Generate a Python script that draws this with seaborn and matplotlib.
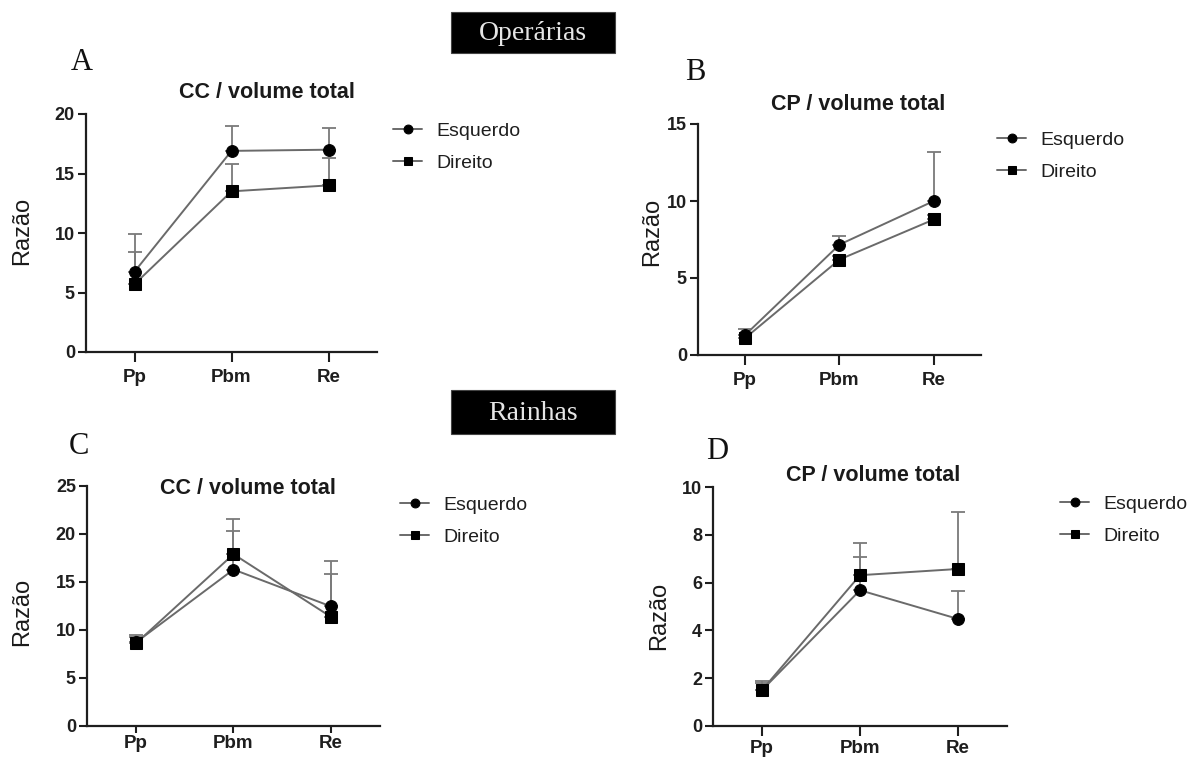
import pandas as pd
import seaborn as sns
import matplotlib.pyplot as plt
from matplotlib.patches import Rectangle

# categories on the x axis
categorias = ['Pp', 'Pbm', 'Re']
lados = ['Esquerdo', 'Direito']

# A - Operárias, CC / volume total
a_esq_media = [6.75, 16.9, 17.0]
a_esq_dp = [3.15, 2.1, 1.8]
a_dir_media = [5.7, 13.5, 14.0]
a_dir_dp = [2.7, 2.3, 2.3]

# B - Operárias, CP / volume total
b_esq_media = [1.3, 7.17, 10.0]
b_esq_dp = [0.4, 0.55, 3.2]
b_dir_media = [1.1, 6.2, 8.8]
b_dir_dp = [0.2, 0.25, 0.3]

# C - Rainhas, CC / volume total
c_esq_media = [8.7, 16.3, 12.45]
c_esq_dp = [0.8, 4.0, 4.75]
c_dir_media = [8.6, 17.9, 11.35]
c_dir_dp = [0.7, 3.7, 4.5]

# D - Rainhas, CP / volume total
d_esq_media = [1.5, 5.68, 4.48]
d_esq_dp = [0.4, 1.39, 1.17]
d_dir_media = [1.5, 6.31, 6.57]
d_dir_dp = [0.3, 1.36, 2.39]

sns.set_style('ticks')
plt.rcParams['font.family'] = ['Liberation Sans', 'DejaVu Sans']

W, H = 1187, 760
fig = plt.figure(figsize=(W / 100, H / 100), dpi=100)


def fx(x):
    return x / W


def fy(y):
    return 1 - y / H


def draw_panel(box, esq_m, esq_sd, dir_m, dir_sd, titulo, yticks, letra,
               letra_xy, titulo_xy, ylab_xy, leg_xy, xpad=5, xtick_len=7):
    left, top, right, bottom = box
    ax = fig.add_axes([fx(left), fy(bottom), (right - left) / W, (bottom - top) / H])

    df = pd.DataFrame({
        'categoria': categorias * 2,
        'lado': [lados[0]] * 3 + [lados[1]] * 3,
        'razao': esq_m + dir_m,
    })
    sns.lineplot(data=df, x='categoria', y='razao', style='lado',
                 markers={'Esquerdo': 'o', 'Direito': 's'}, dashes=False,
                 color='#6a6a6a', lw=1.4, markersize=8.5,
                 markerfacecolor='black', markeredgecolor='black',
                 legend=False, ax=ax, zorder=3)
    handles = ax.get_lines()[:2]

    for media, dp in [(esq_m, esq_sd), (dir_m, dir_sd)]:
        ax.errorbar(categorias, media, yerr=[[0] * 3, dp], fmt='none',
                    ecolor='#7a7a7a', elinewidth=1.3, capsize=5, capthick=1.3,
                    zorder=1, clip_on=False)

    ax.set_xlim(-0.5, 2.5)
    ax.set_ylim(0, yticks[-1])
    ax.set_yticks(yticks)
    ax.set_xlabel('')
    ax.set_ylabel('Razão', fontsize=17, color='#1a1a1a')
    ax.yaxis.set_label_coords(fx(ylab_xy[0]), fy(ylab_xy[1]), transform=fig.transFigure)
    ax.yaxis.label.set_va('center')

    sns.despine(ax=ax)
    for s in ['left', 'bottom']:
        ax.spines[s].set_linewidth(1.6)
        ax.spines[s].set_color('#1e1e1e')
    ax.tick_params(axis='y', length=6, width=1.5, color='#1e1e1e', pad=2,
                   labelsize=13, labelcolor='#1e1e1e')
    ax.tick_params(axis='x', length=xtick_len, width=1.5, color='#1e1e1e', pad=xpad,
                   labelsize=13.5, labelcolor='#1e1e1e')
    for t in ax.get_xticklabels() + ax.get_yticklabels():
        t.set_fontweight('bold')

    fig.text(fx(titulo_xy[0]), fy(titulo_xy[1]), titulo, ha='center', va='center',
             fontsize=15.5, fontweight='bold', color='#1a1a1a')
    fig.text(fx(letra_xy[0]), fy(letra_xy[1]), letra, ha='center', va='center',
             fontsize=22, family='Liberation Serif', color='#111111')

    ax.legend(handles, lados, loc='center left',
              bbox_to_anchor=(fx(leg_xy[0]), fy(leg_xy[1])),
              bbox_transform=fig.transFigure, frameon=False, borderpad=0,
              borderaxespad=0, handlelength=1.5, handletextpad=0.75,
              labelspacing=0.75, fontsize=14, markerscale=0.75,
              labelcolor='#1e1e1e')
    return ax


draw_panel((86, 114, 377, 352), a_esq_media, a_esq_dp, a_dir_media, a_dir_dp,
           'CC / volume total', [0, 5, 10, 15, 20], 'A',
           (82, 62), (267, 92), (22, 231), (393, 147))
draw_panel((698, 124, 981, 355), b_esq_media, b_esq_dp, b_dir_media, b_dir_dp,
           'CP / volume total', [0, 5, 10, 15], 'B',
           (695, 72), (858, 104), (652, 232), (997, 156))
draw_panel((87, 486, 380, 726), c_esq_media, c_esq_dp, c_dir_media, c_dir_dp,
           'CC / volume total', [0, 5, 10, 15, 20, 25], 'C',
           (79, 446), (248, 488), (22, 612), (400, 521), xpad=1.5, xtick_len=5)
draw_panel((713, 487, 1007, 726), d_esq_media, d_esq_dp, d_dir_media, d_dir_dp,
           'CP / volume total', [0, 2, 4, 6, 8, 10], 'D',
           (717, 452), (873, 476), (659, 616), (1060, 520), xpad=3)

# group headers
for texto, top, bottom in [('Operárias', 12, 53), ('Rainhas', 390, 434)]:
    fig.add_artist(Rectangle((fx(451), fy(bottom)), (615 - 451) / W, (bottom - top) / H,
                             transform=fig.transFigure, facecolor='black',
                             edgecolor='#444444', lw=0.8))
    fig.text(fx(533), fy((top + bottom) / 2 + 1), texto, ha='center', va='center',
             fontsize=20, family='Liberation Serif', color='#e6e6e6')

fig.savefig('out.png', dpi=100)
